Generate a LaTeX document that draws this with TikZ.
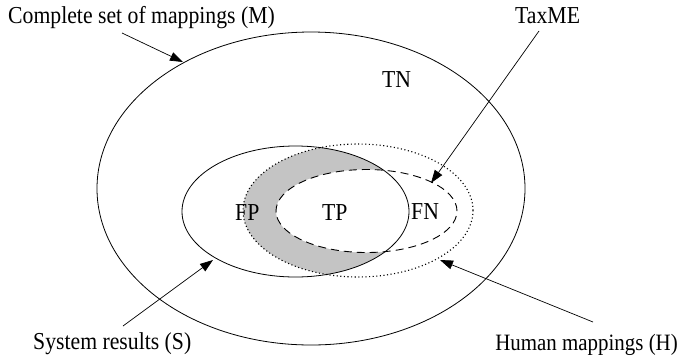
\documentclass[tikz,border=0pt]{standalone}
\usepackage{fontspec}
\usepackage{graphicx}
\setmainfont{Liberation Serif}
\usetikzlibrary{arrows.meta}
\newcommand{\tall}[1]{\scalebox{1}[1.12]{#1}}
\begin{document}
\begin{tikzpicture}[x=1bp,y=-1bp,
  every node/.style={font=\fontsize{21.8}{26}\selectfont, inner sep=0pt},
  lbl/.style={anchor=base west},
  lblr/.style={anchor=base east},
  outline/.style={line width=0.8bp, draw=black},
  arr/.style={line width=0.7bp, -{Triangle[length=13bp,width=9bp]}},
  dottedline/.style={line width=1.1bp, dash pattern=on 1.1bp off 2.5bp},
  dashedline/.style={line width=0.9bp, dash pattern=on 8bp off 5bp}]
\useasboundingbox (0,0) rectangle (681,356);
% fills
\begin{scope}
  \clip (295.5,211.5) ellipse [x radius=113.5bp, y radius=65.5bp];
  \fill[black!23] (358,210.5) ellipse [x radius=115bp, y radius=66.5bp];
\end{scope}
\fill[white] (366.5,211) ellipse [x radius=90.5bp, y radius=41.5bp];
% outlines
\draw[outline] (311,188.5) ellipse [x radius=214bp, y radius=156.5bp];
\draw[outline] (295.5,211.5) ellipse [x radius=113.5bp, y radius=65.5bp];
\draw[outline, dottedline] (358,210.5) ellipse [x radius=115bp, y radius=66.5bp];
\draw[outline, dashedline] (366.5,211) ellipse [x radius=90.5bp, y radius=41.5bp];
% labels
\node[lbl] (lM) at (8,23) {\tall{Complete set of mappings (M)}};
\node[lbl] (lTax) at (515,23) {\tall{TaxME}};
\node[lbl] (lTN) at (382,87) {\tall{TN}};
\node[lbl] (lFP) at (235,220) {\tall{FP}};
\node[lbl] (lTP) at (322,220) {\tall{TP}};
\node[lbl] (lFN) at (411,219) {\tall{FN}};
\node[lbl] (lS) at (33,349) {\tall{System results (S)}};
\node[lblr, font=\fontsize{21}{26}\selectfont] (lH) at (678,350) {\tall{Human mappings (H)}};
% arrow endpoints
\coordinate (aM0) at (122,33);  \coordinate (aM1) at (183,62);
\coordinate (aT0) at (539,31);  \coordinate (aT1) at (431,183);
\coordinate (aS0) at (123,326); \coordinate (aS1) at (213,260);
\coordinate (aH0) at (593,322); \coordinate (aH1) at (440,260);
\draw[arr] (aM0) -- (aM1);
\draw[arr] (aT0) -- (aT1);
\draw[arr] (aS0) -- (aS1);
\draw[arr] (aH0) -- (aH1);
\end{tikzpicture}
\end{document}
